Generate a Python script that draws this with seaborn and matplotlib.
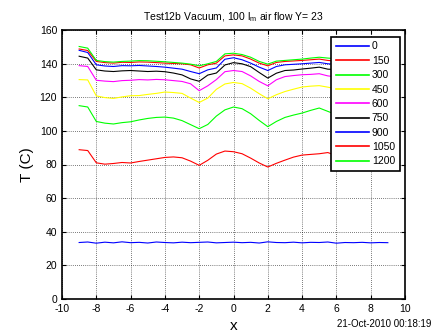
import numpy as np
import pandas as pd
import matplotlib
matplotlib.use("Agg")
import matplotlib.pyplot as plt
import seaborn as sns

x = [-9, -8.5, -8, -7.5, -7, -6.5, -6, -5.5, -5, -4.5, -4, -3.5, -3, -2.5, -2, -1.5, -1, -0.5,
     0, 0.5, 1, 1.5, 2, 2.5, 3, 3.5, 4, 4.5, 5, 5.5, 6, 6.5, 7, 7.5, 8, 8.5, 9]

t0 = [33.6, 33.9, 33.2, 33.8, 33.4, 34.0, 33.5, 33.7, 33.3, 33.9, 33.6, 33.4, 33.8, 33.5, 33.7, 33.9,
      33.4, 33.6, 33.8, 33.5, 33.7, 33.3, 34.0, 33.6, 33.5, 33.8, 33.4, 33.7, 33.6, 33.9, 33.2, 33.6,
      33.5, 33.7, 33.4, 33.6, 33.5]
t150 = [88.8, 88.3, 81.0, 80.2, 80.6, 81.2, 80.9, 81.8, 82.6, 83.4, 84.2, 84.5, 84.0, 82.0, 79.5, 82.5,
        86.2, 88.0, 87.6, 86.4, 83.8, 80.9, 78.5, 80.7, 82.6, 84.4, 85.6, 86.0, 86.4, 87.1, 85.3, 85.8,
        86.2, 86.0, 85.5, 85.2, 84.8]
t300 = [115.0, 114.2, 105.6, 104.6, 104.1, 104.9, 105.4, 106.5, 107.4, 108.0, 108.2, 107.6, 106.1, 103.7,
        101.3, 103.8, 108.8, 112.5, 114.2, 113.2, 110.2, 106.2, 102.5, 105.6, 108.0, 109.4, 110.6, 112.2,
        113.6, 111.6, 109.6, 110.0, 110.4, 110.2, 109.8, 109.5, 109.2]
t450 = [130.5, 130.3, 120.8, 119.8, 119.3, 120.2, 120.9, 121.0, 121.7, 122.3, 123.1, 122.8, 122.3, 119.5,
        116.9, 119.5, 124.7, 127.9, 128.8, 128.1, 125.4, 122.1, 119.1, 121.5, 123.4, 124.8, 126.1, 126.6,
        126.9, 126.0, 125.0, 125.3, 125.6, 125.4, 125.1, 124.9, 124.6]
t600 = [138.8, 138.3, 130.1, 129.6, 129.3, 129.9, 130.1, 130.5, 130.3, 130.6, 130.4, 129.9, 129.4, 128.0,
        123.9, 126.8, 130.5, 135.2, 135.9, 135.3, 132.7, 129.4, 126.8, 130.4, 132.3, 132.9, 133.4, 133.6,
        134.0, 132.7, 132.1, 132.4, 132.6, 132.3, 132.0, 131.8, 131.5]
t750 = [144.4, 143.3, 136.3, 135.6, 135.3, 135.7, 135.9, 135.6, 135.3, 135.5, 135.2, 134.4, 133.3, 130.9,
        129.5, 133.2, 134.4, 139.2, 140.6, 139.9, 138.2, 134.7, 131.4, 134.3, 135.9, 136.2, 136.8, 137.3,
        137.9, 136.7, 136.5, 136.8, 137.0, 136.8, 136.5, 136.3, 136.0]
t900 = [147.9, 146.6, 139.3, 138.6, 138.3, 138.8, 138.7, 138.9, 138.6, 138.3, 137.9, 137.3, 136.7, 135.3,
        134.0, 136.3, 137.4, 142.6, 143.5, 142.3, 140.3, 137.9, 135.9, 138.3, 139.3, 139.6, 139.9, 140.3,
        140.7, 139.9, 139.6, 139.8, 140.0, 139.8, 139.5, 139.3, 139.0]
t1050 = [148.7, 147.8, 141.3, 140.6, 140.3, 140.8, 140.7, 141.0, 140.9, 140.6, 140.3, 140.1, 139.9, 139.3,
         137.4, 139.3, 140.3, 144.6, 145.2, 144.6, 142.7, 140.3, 138.7, 140.7, 141.3, 141.6, 141.9, 142.3,
         142.7, 141.9, 141.5, 141.7, 141.9, 141.7, 141.4, 141.2, 141.0]
t1200 = [150.2, 149.2, 141.9, 141.2, 140.9, 141.3, 141.5, 141.8, 141.7, 141.4, 141.1, 140.7, 140.3, 139.7,
         138.7, 139.9, 141.3, 145.8, 146.2, 145.4, 143.8, 141.3, 139.7, 141.5, 141.9, 142.3, 142.7, 143.3,
         143.8, 143.3, 142.9, 143.1, 143.3, 143.1, 142.8, 142.6, 142.3]

labels = ["0", "150", "300", "450", "600", "750", "900", "1050", "1200"]
series = [t0, t150, t300, t450, t600, t750, t900, t1050, t1200]
colors = ["#0000ff", "#ff0000", "#00ff00", "#ffff00", "#ff00ff", "#000000", "#0000ff", "#ff0000", "#00ff00"]

frames = [pd.DataFrame({"x": x, "T": s, "series": lab}) for lab, s in zip(labels, series)]
df = pd.concat(frames, ignore_index=True)

plt.rcParams["font.family"] = ["Liberation Sans", "DejaVu Sans"]
plt.rcParams["axes.unicode_minus"] = False

fig = plt.figure(figsize=(4.36, 3.33), dpi=100)
ax = fig.add_axes([62/436, 34/333, 343/436, 269/333])

sns.lineplot(data=df, x="x", y="T", hue="series", hue_order=labels,
             palette=dict(zip(labels, colors)), linewidth=0.8, ax=ax, legend=True)

ax.set_xlim(-10, 10)
ax.set_ylim(0, 160)
ax.set_xticks(range(-10, 11, 2))
ax.set_yticks(range(0, 161, 20))
ax.tick_params(direction="in", top=True, right=True, labelsize=7.5, length=3, width=0.8)
ax.grid(True, color="black", linestyle=(0, (1, 2)), linewidth=0.5)
for sp in ax.spines.values():
    sp.set_linewidth(1.2)

ax.set_xlabel("x", fontsize=11, labelpad=4)
ax.set_ylabel("T (C)", fontsize=11, labelpad=4)
ax.set_title(r"Test12b Vacuum, 100 l$_\mathregular{m}$ air flow Y= 23", fontsize=7.5, pad=7)

handles, labs = ax.get_legend_handles_labels()
leg = ax.legend(handles, labs, loc="upper right", bbox_to_anchor=(0.985, 0.975),
                borderaxespad=0, fancybox=False, framealpha=1, edgecolor="black", fontsize=7.5,
                handlelength=3.2, handletextpad=0.25, labelspacing=0.42,
                borderpad=0.45, title=None)
leg.get_frame().set_linewidth(1.2)
for line in leg.get_lines():
    line.set_linewidth(1.2)

fig.text(0.99, 0.012, "21-Oct-2010 00:18:19", ha="right", va="bottom", fontsize=7)

fig.savefig("out.png", dpi=100)
